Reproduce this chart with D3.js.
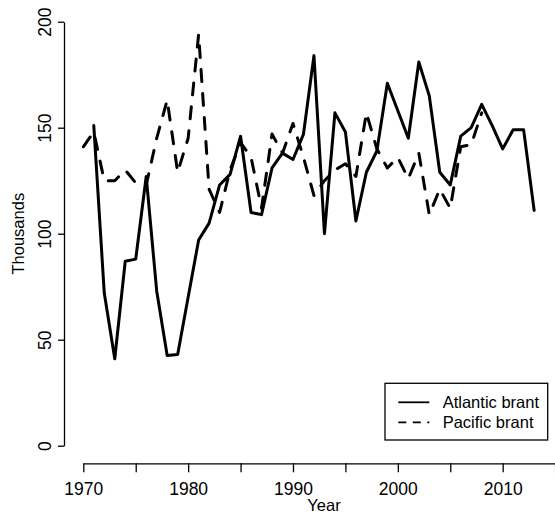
<!DOCTYPE html>
<html>
<head>
<meta charset="utf-8">
<script src="https://cdn.jsdelivr.net/npm/d3@7"></script>
<style>
  html, body { margin: 0; padding: 0; background: #fff; }
  svg { display: block; }
  text { font-family: "Liberation Sans", Arial, Helvetica, sans-serif; fill: #000; }
</style>
</head>
<body>
<svg id="chart" width="555" height="519"></svg>
<script>
// Midwinter counts of brant (thousands)
const atlanticYears = d3.range(1971, 2014);
const atlanticValues = [
  151, 72, 41, 87, 88, 127, 73, 42.5, 43, 70,
  97, 105, 123, 128, 146, 110, 109, 131, 138, 135,
  147, 184, 100, 157, 148, 106, 129, 139, 171, 158,
  145, 181, 165, 129, 123, 146, 150, 161, 151, 140,
  149, 149, 111
];
const pacificYears = d3.range(1970, 2009);
const pacificValues = [
  141, 148, 125, 125, 130, 124, 123, 145, 163, 129,
  145, 194, 121, 110, 130, 143, 136, 112, 147, 138,
  152, 136, 118, 125, 130, 133, 127, 157, 140, 131,
  136, 126, 138, 109, 121, 112, 141, 142, 157
];
const xTicks = d3.range(1970, 2016, 5);
const xLabelYears = [1970, 1980, 1990, 2000, 2010];
const yTicks = [0, 50, 100, 150, 200];
const seriesNames = ["Atlantic brant", "Pacific brant"];

const svg = d3.select("#chart");

const x = d3.scaleLinear().domain([1970, 2015]).range([83.3, 555.1]);
const y = d3.scaleLinear().domain([0, 200]).range([445.7, 21.7]);

const atlantic = atlanticYears.map((yr, i) => ({ year: yr, value: atlanticValues[i] }));
const pacific = pacificYears.map((yr, i) => ({ year: yr, value: pacificValues[i] }));

const line = d3.line().x(d => x(d.year)).y(d => y(d.value));

// data lines
svg.append("path")
  .datum(atlantic)
  .attr("d", line)
  .attr("fill", "none")
  .attr("stroke", "#000")
  .attr("stroke-width", 3)
  .attr("stroke-linejoin", "round")
  .attr("stroke-linecap", "round");

svg.append("path")
  .datum(pacific)
  .attr("d", line)
  .attr("fill", "none")
  .attr("stroke", "#000")
  .attr("stroke-width", 3)
  .attr("stroke-dasharray", "12,12")
  .attr("stroke-linejoin", "round")
  .attr("stroke-linecap", "round");

// x axis
const xAxis = svg.append("g")
  .attr("transform", "translate(0,463.3)")
  .call(d3.axisBottom(x)
    .tickValues(xTicks)
    .tickSize(9)
    .tickSizeOuter(0)
    .tickPadding(10)
    .tickFormat(d => xLabelYears.includes(d) ? String(d) : ""));
xAxis.select(".domain").attr("stroke-width", 1.3);
xAxis.selectAll(".tick line").attr("stroke-width", 1.3);
xAxis.selectAll(".tick text")
  .attr("font-size", 17.5)
  .attr("font-family", "Liberation Sans, Arial, sans-serif");

// y axis
const yAxis = svg.append("g")
  .attr("transform", "translate(64,0)")
  .call(d3.axisLeft(y)
    .tickValues(yTicks)
    .tickSize(6)
    .tickSizeOuter(0));
yAxis.select(".domain").attr("stroke-width", 1.3);
yAxis.selectAll(".tick line").attr("stroke-width", 1.3);
yAxis.selectAll(".tick text")
  .attr("x", null).attr("dy", null)
  .attr("text-anchor", "middle")
  .attr("transform", "translate(-13,0) rotate(-90)")
  .attr("font-size", 17.5)
  .attr("font-family", "Liberation Sans, Arial, sans-serif");

// axis titles
svg.append("text")
  .attr("x", 324)
  .attr("y", 511)
  .attr("text-anchor", "middle")
  .attr("font-size", 16.5)
  .text("Year");

svg.append("text")
  .attr("transform", "translate(24,233.7) rotate(-90)")
  .attr("text-anchor", "middle")
  .attr("font-size", 16.5)
  .text("Thousands");

// legend
const legend = svg.append("g");
legend.append("rect")
  .attr("x", 385).attr("y", 383.3)
  .attr("width", 162.7).attr("height", 56.7)
  .attr("fill", "#fff")
  .attr("stroke", "#000")
  .attr("stroke-width", 1.3);

const legendRows = [
  { name: seriesNames[0], dash: null, y: 402.3 },
  { name: seriesNames[1], dash: "8,6.5", y: 422.3 }
];
legendRows.forEach(r => {
  legend.append("line")
    .attr("x1", 398.3).attr("x2", 429.3)
    .attr("y1", r.y).attr("y2", r.y)
    .attr("stroke", "#000")
    .attr("stroke-width", 1.8)
    .attr("stroke-dasharray", r.dash);
  legend.append("text")
    .attr("x", 442.7)
    .attr("y", r.y + 6)
    .attr("font-size", 16.5)
    .text(r.name);
});
</script>
</body>
</html>
